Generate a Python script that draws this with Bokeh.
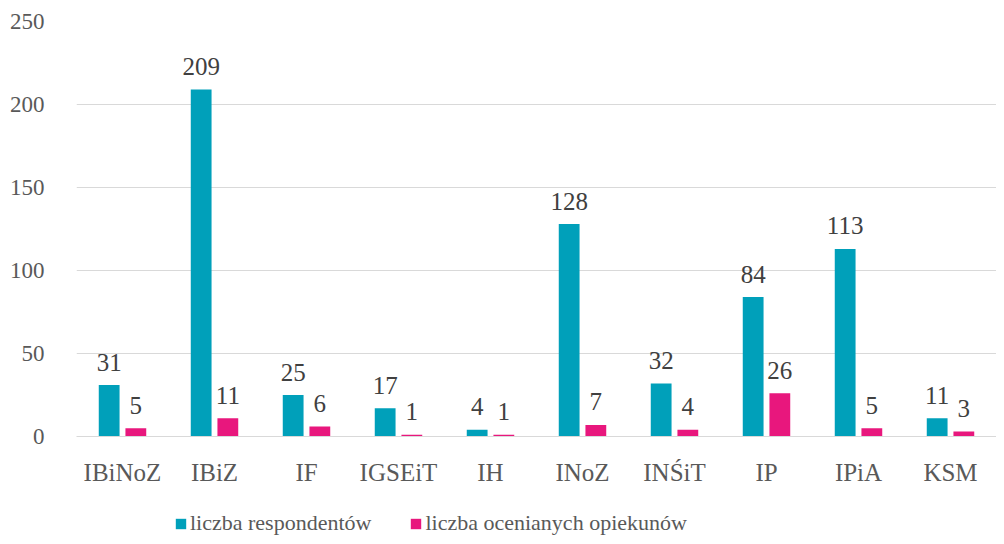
from bokeh.plotting import figure
from bokeh.layouts import column
from bokeh.models import ColumnDataSource, FactorRange, Range1d, Legend, LegendItem
from bokeh.transform import dodge
from bokeh.core.properties import value
from bokeh.embed import file_html
from bokeh.resources import INLINE

categories = ["IBiNoZ", "IBiZ", "IF", "IGSEiT", "IH", "INoZ", "INŚiT", "IP", "IPiA", "KSM"]
respondenci = [31, 209, 25, 17, 4, 128, 32, 84, 113, 11]
opiekunowie = [5, 11, 6, 1, 1, 7, 4, 26, 5, 3]
series_names = ["liczba respondentów", "liczba ocenianych opiekunów"]
y_ticks = [0, 50, 100, 150, 200, 250]

TEAL = "#00A0BA"
PINK = "#E8177D"
FONT = "Liberation Serif"
W = 996

src = ColumnDataSource(dict(
    cat=categories,
    resp=respondenci,
    opie=opiekunowie,
    resp_t=[str(v) for v in respondenci],
    opie_t=[str(v) for v in opiekunowie],
))

p = figure(width=W, height=488, x_range=FactorRange(*categories),
           y_range=Range1d(0, 250), output_backend="svg", toolbar_location=None,
           min_border_left=76, min_border_right=0, min_border_top=21, min_border_bottom=49)
p.outline_line_color = None
p.background_fill_color = "white"
p.border_fill_color = "white"

off = 0.145
bw = 0.226
p.vbar(x=dodge("cat", -off, range=p.x_range), top="resp", width=bw, source=src,
       fill_color=TEAL, line_color=None)
p.vbar(x=dodge("cat", off, range=p.x_range), top="opie", width=bw, source=src,
       fill_color=PINK, line_color=None)

for col, txt, d in (("resp", "resp_t", -off), ("opie", "opie_t", off)):
    p.text(x=dodge("cat", d, range=p.x_range), y=col, text=txt, source=src,
           text_align="center", text_baseline="alphabetic", y_offset=-23,
           text_font=value(FONT), text_font_size="25px", text_color="#404040")

p.xgrid.grid_line_color = None
p.ygrid.grid_line_color = "#D9D9D9"
p.ygrid.grid_line_width = 1
p.yaxis.ticker = y_ticks
p.yaxis.axis_line_color = None
p.yaxis.major_tick_line_color = None
p.yaxis.minor_tick_line_color = None
p.yaxis.major_label_text_font = FONT
p.yaxis.major_label_text_font_size = "23px"
p.yaxis.major_label_text_color = "#595959"
p.yaxis.major_label_standoff = 26

p.xaxis.axis_line_color = "#D9D9D9"
p.xaxis.major_tick_line_color = None
p.xaxis.minor_tick_line_color = None
p.xaxis.major_label_text_font = FONT
p.xaxis.major_label_text_font_size = "25px"
p.xaxis.major_label_text_color = "#595959"
p.xaxis.major_label_standoff = 16

# legend strip (swatch renderers sit outside the visible range)
lg = figure(width=W, height=48, x_range=Range1d(0, 1), y_range=Range1d(0, 1),
            output_backend="svg", toolbar_location=None,
            min_border_left=76, min_border_right=0, min_border_top=0, min_border_bottom=0,
            x_axis_location=None, y_axis_location=None)
lg.outline_line_color = None
lg.xgrid.visible = False
lg.ygrid.visible = False
swatch = ColumnDataSource(dict(x=[-5], top=[-5]))
d1 = lg.vbar(x="x", top="top", width=0.1, source=swatch, fill_color=TEAL, line_color=None)
d2 = lg.vbar(x="x", top="top", width=0.1, source=swatch, fill_color=PINK, line_color=None)
legend = Legend(items=[LegendItem(label=series_names[0], renderers=[d1]),
                       LegendItem(label=series_names[1], renderers=[d2])],
                orientation="horizontal", location=(98, 0),
                glyph_width=13, glyph_height=13, label_standoff=3, spacing=38,
                padding=0, margin=0, border_line_color=None,
                label_text_font=FONT, label_text_font_size="22px",
                label_text_color="#595959", background_fill_alpha=0)
lg.add_layout(legend, "center")

layout = column(p, lg, spacing=0)
open("out.html", "w").write(file_html(layout, INLINE))
